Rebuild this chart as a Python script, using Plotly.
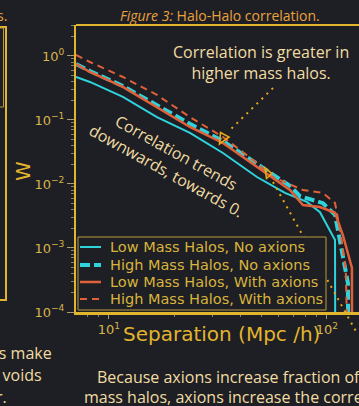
import plotly.graph_objects as go

# ---------------- data ----------------
sep_low_noax = [7.06, 8.18, 11.59, 16.61, 23.52, 33.34, 47.75, 64.18, 80.9, 92.9, 108.9, 109.3]
w_low_noax = [0.470, 0.393, 0.229, 0.111, 0.0627, 0.0305, 0.01285, 0.00724, 0.00525, 0.00363, 0.00133, 1e-6]

sep_high_noax = [7.06, 8.18, 11.59, 16.61, 23.52, 33.34, 47.75, 67.66, 75.2, 95.9, 108.9, 115.9, 124.8, 125.6]
w_high_noax = [0.750, 0.583, 0.340, 0.171, 0.0871, 0.0468, 0.0204, 0.00933, 0.00646, 0.00501, 0.00331, 0.00105, 0.000282, 1e-6]

sep_low_ax = [7.06, 8.18, 11.59, 16.61, 23.52, 33.34, 47.75, 67.66, 77.6, 92.9, 108.9, 118.4, 130.2, 130.4]
w_low_ax = [0.750, 0.562, 0.328, 0.160, 0.0778, 0.0437, 0.01845, 0.00805, 0.0047, 0.00437, 0.00355, 0.00158, 0.00049, 1e-6]

sep_high_ax = [7.06, 8.18, 11.59, 16.61, 23.52, 33.34, 47.75, 56.54, 77.6, 95.9, 108.9, 112.3, 116.0, 122.0, 127.0]
w_high_ax = [1.04, 0.805, 0.470, 0.246, 0.111, 0.0542, 0.0213, 0.01285, 0.00805, 0.00724, 0.00505, 0.00305, 0.00159, 0.000457, 1e-6]

series_names = ["Low Mass Halos, No axions", "High Mass Halos, No axions",
                "Low Mass Halos, With axions", "High Mass Halos, With axions"]

x_tick_vals = [10, 100]
x_tick_text = ["10<sup>1</sup>", "10<sup>2</sup>"]
x_minor_vals = [8, 9, 20, 30, 40, 50, 60, 70, 80, 90]
y_tick_vals = [1, 0.1, 0.01, 0.001, 0.0001]
y_tick_text = ["10<sup>0</sup>", "10<sup>\u22121</sup>", "10<sup>\u22122</sup>",
               "10<sup>\u22123</sup>", "10<sup>\u22124</sup>"]
y_minor_vals = [m * 10 ** e for e in range(-4, 1) for m in range(2, 10)]

# ---------------- style ----------------
BG = "#1e1f24"
GOLD = "#e2b52e"
TICKTXT = "#d6b44e"
CREAM = "#f1dca2"
ORANGE_T = "#eaa23e"
CYAN = "#2fd3dc"
ORANGE = "#e0603a"
DOT = "#e5a81a"
LEGTXT = "#d8b43c"
W, H = 359, 406
L, R, T, B = 76, 0, 25, 94
PW, PH = W - L - R, H - T - B


def px(x):
    return (x - L) / PW


def py(y):
    return (H - B - y) / PH


styles = [dict(color=CYAN, width=2),
          dict(color=CYAN, width=4, dash="10px,4px"),
          dict(color=ORANGE, width=2.5),
          dict(color=ORANGE, width=2, dash="7px,5px")]
xs = [sep_low_noax, sep_high_noax, sep_low_ax, sep_high_ax]
ys = [w_low_noax, w_high_noax, w_low_ax, w_high_ax]

fig = go.Figure()
for xv, yv, nm, st in zip(xs, ys, series_names, styles):
    fig.add_trace(go.Scatter(x=xv, y=yv, mode="lines", name=nm, line=st, showlegend=False))

axis_font = dict(family="DejaVu Sans", size=13, color=TICKTXT)
fig.update_xaxes(type="log", range=[0.849, 2.147], showgrid=False, zeroline=False,
                 showline=True, linecolor=GOLD, linewidth=2.5,
                 tickvals=x_tick_vals, ticktext=x_tick_text, ticks="outside", ticklen=4,
                 tickcolor="#a89a70", tickfont=axis_font,
                 minor=dict(tickvals=x_minor_vals, ticks="outside", ticklen=2.5,
                            tickcolor="#8a8068", showgrid=False))
fig.update_yaxes(type="log", range=[-4, 0.484], showgrid=False, zeroline=False,
                 showline=True, linecolor=GOLD, linewidth=2,
                 tickvals=y_tick_vals, ticktext=y_tick_text, ticks="outside", ticklen=7,
                 tickcolor="#a89a70", tickfont=axis_font,
                 minor=dict(tickvals=y_minor_vals, ticks="outside", ticklen=3.5,
                            tickcolor="#8a8068", showgrid=False))

shapes = []
# top frame line of the axes
shapes.append(dict(type="line", xref="paper", yref="paper", x0=0, x1=1.02, y0=1, y1=1,
                   line=dict(color=GOLD, width=2)))
# neighbouring panel frame on the left
shapes.append(dict(type="path", xref="paper", yref="paper",
                   path=f"M {px(-2)} {py(27)} L {px(6)} {py(27)} L {px(6)} {py(300)} L {px(-2)} {py(300)}",
                   line=dict(color=GOLD, width=2)))
shapes.append(dict(type="path", xref="paper", yref="paper",
                   path=f"M {px(-2)} {py(28)} L {px(3.5)} {py(28)} L {px(3.5)} {py(107)} L {px(-2)} {py(107)}",
                   line=dict(color="#b89a40", width=1)))
# dotted pointer lines
shapes.append(dict(type="line", xref="paper", yref="paper", x0=px(273), y0=py(88), x1=px(231), y1=py(129),
                   line=dict(color=DOT, width=2, dash="2px,5px")))
shapes.append(dict(type="line", xref="paper", yref="paper", x0=px(273), y0=py(182), x1=px(358), y1=py(335),
                   line=dict(color=DOT, width=2, dash="2px,5px")))
# open triangle heads
shapes.append(dict(type="path", xref="paper", yref="paper",
                   path=f"M {px(220.5)} {py(132.5)} L {px(229)} {py(137)} L {px(219.5)} {py(144)} Z",
                   line=dict(color=DOT, width=1.6)))
shapes.append(dict(type="path", xref="paper", yref="paper",
                   path=f"M {px(265)} {py(168)} L {px(272)} {py(173.5)} L {px(266.5)} {py(178.5)} Z",
                   line=dict(color=DOT, width=1.6)))

# legend box (drawn manually for exact spacing)
shapes.append(dict(type="rect", xref="paper", yref="paper", x0=px(78), x1=px(326), y0=py(310), y1=py(237),
                   line=dict(color="#b89a40", width=1), fillcolor=BG, layer="above"))
leg_rows = [247, 265, 282, 299]
ann = []
for row, nm, st in zip(leg_rows, series_names, styles):
    shapes.append(dict(type="line", xref="paper", yref="paper", x0=px(80), x1=px(101),
                       y0=py(row), y1=py(row), line=st, layer="above"))
    ann.append(dict(text=nm, x=px(108), y=py(row), xref="paper", yref="paper", showarrow=False,
                    xanchor="left", yanchor="middle",
                    font=dict(family="DejaVu Sans", size=14.5, color=LEGTXT)))

body = dict(family="Open Sans", size=16, color=CREAM)
ann.append(dict(text="<i>Figure 3:</i> Halo-Halo correlation.", x=px(220), y=py(15), xref="paper", yref="paper",
                showarrow=False, xanchor="center", yanchor="middle",
                font=dict(family="Open Sans", size=14, color=ORANGE_T)))
ann.append(dict(text="s.", x=px(9), y=py(15), xref="paper", yref="paper", showarrow=False,
                xanchor="right", yanchor="middle", font=dict(family="Open Sans", size=14, color=ORANGE_T)))
ann.append(dict(text="Correlation is greater in<br>higher mass halos.", x=px(261), y=py(62),
                xref="paper", yref="paper", showarrow=False, xanchor="center", yanchor="middle", font=body))
ann.append(dict(text="Correlation trends<br>downwards, towards 0.", x=px(171), y=py(161),
                xref="paper", yref="paper", showarrow=False, xanchor="center", yanchor="middle",
                textangle=29, font=body))
ann.append(dict(text="W", x=px(23), y=py(171), xref="paper", yref="paper", showarrow=False,
                xanchor="center", yanchor="middle", textangle=-90,
                font=dict(family="DejaVu Sans", size=20, color=GOLD)))
ann.append(dict(text="Separation (Mpc /h)", x=px(221), y=py(334), xref="paper", yref="paper",
                showarrow=False, xanchor="center", yanchor="middle",
                font=dict(family="DejaVu Sans", size=20, color=GOLD)))
ann.append(dict(text="ns make", x=px(54), y=py(353), xref="paper", yref="paper", showarrow=False,
                xanchor="right", yanchor="middle", font=body))
ann.append(dict(text="f voids", x=px(44), y=py(375), xref="paper", yref="paper", showarrow=False,
                xanchor="right", yanchor="middle", font=body))
ann.append(dict(text="r.", x=px(9), y=py(397), xref="paper", yref="paper", showarrow=False,
                xanchor="right", yanchor="middle", font=body))
ann.append(dict(text="Because axions increase fraction of", x=px(95), y=py(377), xref="paper", yref="paper",
                showarrow=False, xanchor="left", yanchor="middle", font=body))
ann.append(dict(text="mass halos, axions increase the correlation", x=px(82), y=py(397), xref="paper",
                yref="paper", showarrow=False, xanchor="left", yanchor="middle", font=body))

fig.update_layout(
    width=W, height=H, margin=dict(l=L, r=R, t=T, b=B, pad=0),
    paper_bgcolor=BG, plot_bgcolor=BG,
    shapes=shapes, annotations=ann,
    showlegend=False,
)

fig.write_html("out.html", config={"displayModeBar": False},
               post_script="document.body.style.margin='0px';document.body.style.background='#1e1f24';")
